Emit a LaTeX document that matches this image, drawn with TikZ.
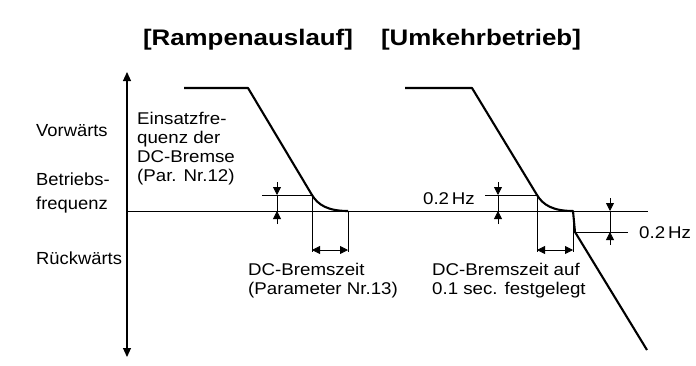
\documentclass[tikz,border=0pt]{standalone}
\usepackage{fontspec}
\setmainfont[FakeStretch=1.1]{Liberation Sans}
\newfontfamily\seitefont[FakeStretch=1.05]{Liberation Sans}
\newfontfamily\titelfont[FakeStretch=1.15]{Liberation Sans}
\usetikzlibrary{arrows.meta}
\begin{document}
\begin{tikzpicture}[x=1pt, y=-1pt, >={Triangle[length=8pt,width=8pt]},
    txt/.style={font=\fontsize{17}{19}\selectfont, inner sep=0pt, align=left},
    seite/.style={font=\seitefont\fontsize{17.5}{19}\selectfont, inner sep=0pt, align=left},
    titel/.style={font=\titelfont\bfseries\fontsize{22.5}{26}\selectfont, inner sep=0pt},
    kurve/.style={line width=2.1pt, line join=round},
    duenn/.style={line width=0.8pt}]
    \useasboundingbox (0,0) rectangle (696,365);
    % Überschriften
    \node[titel] (rampe) at (248,40) {[Rampenauslauf]};
    \node[titel] (umkehr) at (481,40) {[Umkehrbetrieb]};
    % Achsen
    \coordinate (oben) at (127,72);
    \coordinate (unten) at (127,357);
    \coordinate (null0) at (127,211);
    \coordinate (null1) at (648,211);
    \draw[<->, line width=1.1pt, >={Triangle[length=9pt,width=8pt]}] (unten) -- (oben);
    \draw[duenn] (null0) -- (null1);
    % Beschriftung links
    \node[seite, anchor=west] (vor) at (36,131) {Vorwärts};
    \node[seite, anchor=west] (betrieb) at (36,193) {Betriebs-\\[5pt]frequenz};
    \node[seite, anchor=west] (rueck) at (36,258) {Rückwärts};
    % Rampenauslauf
    \coordinate (a1) at (184,88);
    \coordinate (a2) at (248,88);
    \coordinate (a3) at (312,195);
    \coordinate (a4) at (348,211);
    \draw[kurve] (a1) -- (a2) -- (a3) .. controls (318,205) and (328,211) .. (a4);
    \draw[duenn] (262,195) -- (a3);
    \draw[duenn, ->] (277,182) -- (277,195);
    \draw[duenn, ->] (277,224) -- (277,211);
    \draw[duenn] (277,195) -- (277,211);
    \draw[duenn] (a3) -- (312,252);
    \draw[duenn] (a4) -- (348,252);
    \draw[duenn, <->] (312,250) -- (348,250);
    \node[txt, anchor=north west] (einsatz) at (137,112) {Einsatzfre-\\quenz der\\DC-Bremse\\(Par. Nr.12)};
    \node[txt, anchor=north west] (zeit1) at (248,263) {DC-Bremszeit\\(Parameter Nr.13)};
    % Umkehrbetrieb
    \coordinate (b1) at (405,88);
    \coordinate (b2) at (472,88);
    \coordinate (b3) at (537,195);
    \coordinate (b4) at (573,211);
    \coordinate (b5) at (575,232);
    \coordinate (b6) at (647,350);
    \draw[kurve] (b1) -- (b2) -- (b3) .. controls (543,205) and (553,211) .. (b4) -- (b5) -- (b6);
    \draw[duenn] (485,195) -- (b3);
    \draw[duenn, ->] (498,182) -- (498,195);
    \draw[duenn, ->] (498,224) -- (498,211);
    \draw[duenn] (498,195) -- (498,211);
    \node[txt, anchor=east] (hz1) at (475,199) {0.2\,Hz};
    \draw[duenn] (b5) -- (628,232);
    \draw[duenn, ->] (610,198) -- (610,211);
    \draw[duenn, ->] (610,245) -- (610,232);
    \draw[duenn] (610,211) -- (610,232);
    \node[txt, anchor=west] (hz2) at (639,233) {0.2\,Hz};
    \draw[duenn] (b3) -- (537,252);
    \draw[duenn] (b4) -- (573,252);
    \draw[duenn, <->] (537,250) -- (573,250);
    \node[txt, anchor=north west] (zeit2) at (432,263) {DC-Bremszeit auf\\0.1 sec. festgelegt};
\end{tikzpicture}
\end{document}
